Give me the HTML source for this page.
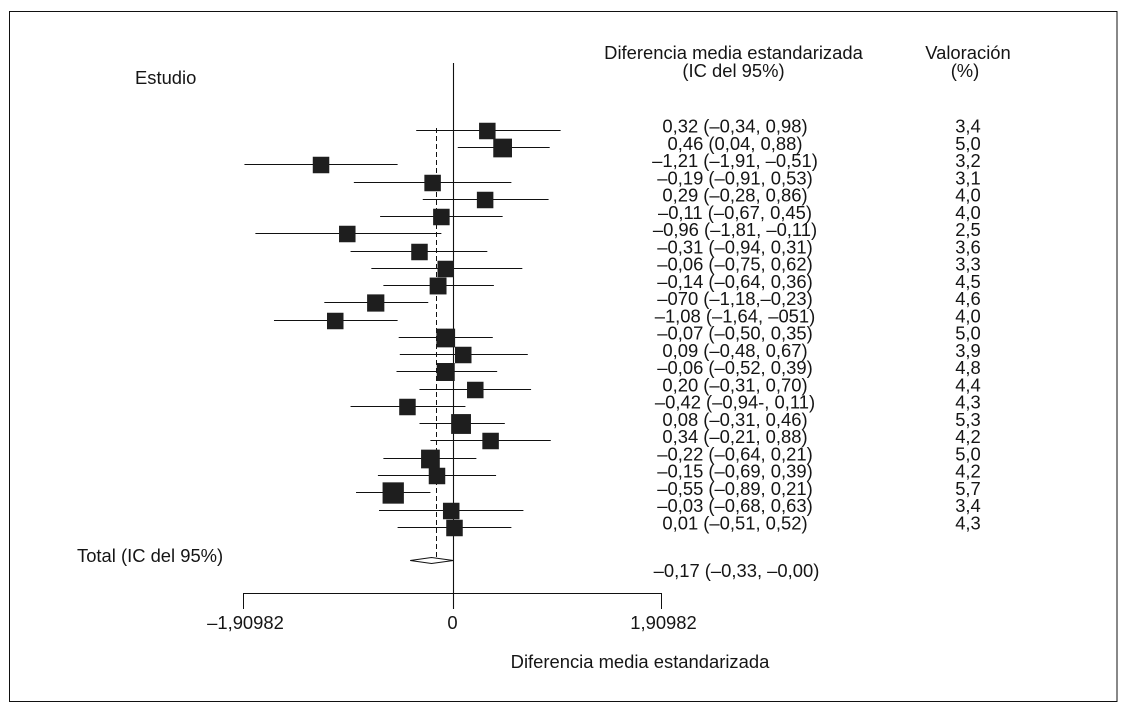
<!DOCTYPE html>
<html lang="es">
<head>
<meta charset="utf-8">
<title>Forest plot</title>
<style>
html,body{margin:0;padding:0;background:#fff;width:1132px;height:709px;overflow:hidden}
svg{display:block}
text{font-family:"Liberation Sans",sans-serif;font-size:18.4px;fill:#151515}
</style>
</head>
<body>
<svg id="chart" xmlns="http://www.w3.org/2000/svg" width="1132" height="709" viewBox="0 0 1132 709">
  <rect x="9.5" y="11.5" width="1107.5" height="690" fill="#fff" stroke="#111" stroke-width="1"/>
  <text x="135" y="84">Estudio</text>
  <text x="733.5" y="59" text-anchor="middle">Diferencia media estandarizada</text>
  <text x="733.5" y="77" text-anchor="middle">(IC del 95%)</text>
  <text x="968" y="59" text-anchor="middle">Valoración</text>
  <text x="965" y="77" text-anchor="middle">(%)</text>
  <text x="77" y="562">Total (IC del 95%)</text>
  <text x="736.5" y="577" text-anchor="middle">–0,17 (–0,33, –0,00)</text>
  <text x="640" y="668" text-anchor="middle">Diferencia media estandarizada</text>
  <g id="marks"></g>
</svg>
<script>
// Point estimates and confidence limits read from the plotted marks
const effects = [0.31,0.45,-1.21,-0.19,0.29,-0.11,-0.97,-0.31,-0.07,-0.14,-0.71,-1.08,-0.07,0.09,-0.07,0.20,-0.42,0.07,0.34,-0.21,-0.15,-0.55,-0.02,0.01];
const lower = [-0.34,0.04,-1.91,-0.91,-0.28,-0.67,-1.81,-0.94,-0.75,-0.64,-1.18,-1.64,-0.50,-0.49,-0.52,-0.31,-0.94,-0.31,-0.21,-0.64,-0.69,-0.89,-0.68,-0.51];
const upper = [0.98,0.88,-0.51,0.53,0.87,0.45,-0.11,0.31,0.63,0.37,-0.23,-0.51,0.36,0.68,0.40,0.71,0.11,0.47,0.89,0.21,0.39,-0.21,0.64,0.53];
const weights = [3.4,5.0,3.2,3.1,4.0,4.0,2.5,3.6,3.3,4.5,4.6,4.0,5.0,3.9,4.8,4.4,4.3,5.3,4.2,5.0,4.2,5.7,3.4,4.3];
// Printed labels (kept as in the source figure)
const effectLabels = ["0,32 (–0,34, 0,98)","0,46 (0,04, 0,88)","–1,21 (–1,91, –0,51)","–0,19 (–0,91, 0,53)","0,29 (–0,28, 0,86)","–0,11 (–0,67, 0,45)","–0,96 (–1,81, –0,11)","–0,31 (–0,94, 0,31)","–0,06 (–0,75, 0,62)","–0,14 (–0,64, 0,36)","–070 (–1,18,–0,23)","–1,08 (–1,64, –051)","–0,07 (–0,50, 0,35)","0,09 (–0,48, 0,67)","–0,06 (–0,52, 0,39)","0,20 (–0,31, 0,70)","–0,42 (–0,94-, 0,11)","0,08 (–0,31, 0,46)","0,34 (–0,21, 0,88)","–0,22 (–0,64, 0,21)","–0,15 (–0,69, 0,39)","–0,55 (–0,89, 0,21)","–0,03 (–0,68, 0,63)","0,01 (–0,51, 0,52)"];
const weightLabels = ["3,4","5,0","3,2","3,1","4,0","4,0","2,5","3,6","3,3","4,5","4,6","4,0","5,0","3,9","4,8","4,4","4,3","5,3","4,2","5,0","4,2","5,7","3,4","4,3"];
// Pooled result as drawn
const pooledLower = -0.395;
const pooledMid = -0.2;
const pooledUpper = 0;
const pooledLine = -0.155;
const axisTicks = [-1.90982, 0, 1.90982];
const axisTickLabels = ["–1,90982", "0", "1,90982"];

const NS = 'http://www.w3.org/2000/svg';
const root = document.getElementById('marks');
const x = v => 453.4 + v * 109.4;
// The printed axis is slightly asymmetric about zero in the source figure
const axisX = v => v < 0 ? 453.5 + v * 109.96 : 453.5 + v * 108.91;
const rowLine = i => Math.floor(130.3 + i * 17.26) + 0.5;
const rowText = i => 132.5 + i * 17.26;
const box = w => 16.5 + Math.max(0, w - 4.4) * 3.7;
function add(tag, attrs, text) {
  const el = document.createElementNS(NS, tag);
  for (const k in attrs) el.setAttribute(k, attrs[k]);
  if (text !== undefined) el.textContent = text;
  root.appendChild(el);
  return el;
}
const lineColor = '#111';

let el = add('line', {x1: Math.floor(x(pooledLine)) + 0.5, x2: Math.floor(x(pooledLine)) + 0.5, y1: 128, y2: 562, stroke: lineColor, 'stroke-width': 1, 'stroke-dasharray': '5 3'});



el = add('line', {x1: axisX(0), x2: axisX(0), y1: 63, y2: 609, stroke: lineColor, 'stroke-width': 1.1});



effects.forEach((e, i) => {
  const y = rowLine(i);
  const ci = add('line', {x1: x(lower[i]), x2: x(upper[i]), y1: y, y2: y, stroke: lineColor, 'stroke-width': 1});
  
  
  const s = box(weights[i]);
  const sq = add('rect', {x: x(e) - s / 2, y: y + 0.5 - s / 2, width: s, height: s, fill: '#1e1e1e'});
  
  
  const t1 = add('text', {x: 735, y: rowText(i), 'text-anchor': 'middle'}, effectLabels[i]);
  
  
  const t2 = add('text', {x: 968, y: rowText(i), 'text-anchor': 'middle'}, weightLabels[i]);
  
  
});

el = add('polygon', {points: [[x(pooledLower), 560.5], [x(pooledMid), 557.5], [x(pooledUpper), 560.5], [x(pooledMid), 563.5]].map(p => p.join(',')).join(' '), fill: '#fff', stroke: lineColor, 'stroke-width': 1});



el = add('line', {x1: axisX(axisTicks[0]) - 0.5, x2: axisX(axisTicks[2]) + 0.5, y1: 593.5, y2: 593.5, stroke: lineColor, 'stroke-width': 1});



axisTicks.forEach((t, i) => {
  const tick = add('line', {x1: axisX(t), x2: axisX(t), y1: 593, y2: 609, stroke: lineColor, 'stroke-width': 1});
  
  
  const label = add('text', {x: axisX(t) + (i === 1 ? -1 : 2), y: 629, 'text-anchor': 'middle'}, axisTickLabels[i]);
  
  
});
</script>
</body>
</html>
